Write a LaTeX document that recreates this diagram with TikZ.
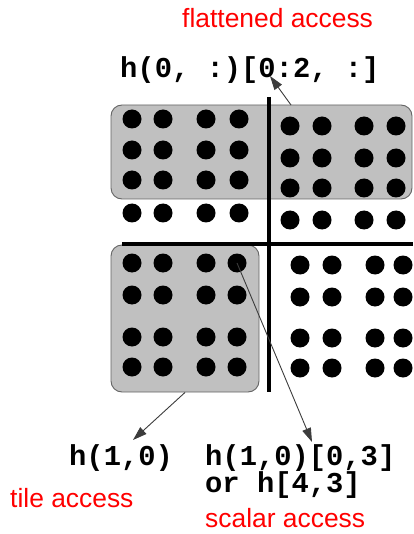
\documentclass[tikz,border=0pt]{standalone}
\usepackage{fontspec}
\setmainfont{Liberation Sans}
\newfontfamily\codefont{Liberation Mono}
\usetikzlibrary{arrows.meta}
\definecolor{tilegray}{RGB}{192,192,192}
\definecolor{edgegray}{RGB}{100,100,100}
\definecolor{linkgray}{RGB}{60,60,60}
\definecolor{notered}{RGB}{255,0,0}
\begin{document}
\begin{tikzpicture}[x=1pt,y=-1pt,
  tilebox/.style={draw=edgegray,line width=0.9pt,fill=tilegray,rounded corners=11pt,
    inner sep=0pt,minimum width=#1},
  dot/.style={circle,fill=black,inner sep=0pt,minimum size=19pt},
  divider/.style={line width=3.2pt,black},
  code/.style={inner sep=0pt,anchor=base west,font=\codefont\bfseries\fontsize{28.8}{30}\selectfont},
  note/.style={inner sep=0pt,anchor=base west,text=notered,font=\fontsize{26.4}{30}\selectfont},
  link/.style={draw=linkgray,line width=0.9pt,-{Triangle[length=14pt,width=9pt]}}
]
\useasboundingbox (0,0) rectangle (413,534);

% shaded tiles
\node[tilebox=301pt,minimum height=94pt] (rowtile) at (261.5,152) {};
\node[tilebox=148pt,minimum height=147pt] (tile) at (185,318.5) {};

% tile boundaries
\draw[divider] (269,97) -- (269,392);
\draw[divider] (122,244) -- (413,244);

% elements of the four tiles
\foreach \x [count=\i from 0] in {132,163,206,239}
  \foreach \y [count=\j from 0] in {119,150,180,213}
    \node[dot] (a-\j-\i) at (\x,\y) {};
\foreach \x [count=\i from 0] in {290,322,364,396}
  \foreach \y [count=\j from 0] in {126,158,188,220}
    \node[dot] (b-\j-\i) at (\x,\y) {};
\foreach \x [count=\i from 0] in {132,163,206,237}
  \foreach \y [count=\j from 0] in {263,295,337,367}
    \node[dot] (c-\j-\i) at (\x,\y) {};
\foreach \x [count=\i from 0] in {300,332,375,403}
  \foreach \y [count=\j from 0] in {265,297,338,368}
    \node[dot] (d-\j-\i) at (\x,\y) {};

% labels
\node[note] (flatnote) at (182,28) {flattened access};
\node[code] (flat) at (120,78) {h(0, :)[0:2, :]};
\node[code] (tilecode) at (69,465) {h(1,0)};
\node[code] (scalarcode) at (205,465) {h(1,0)[0,3]};
\node[code] (scalaralt) at (205,492) {or h[4,3]};
\node[note] (tilenote) at (10,507) {tile access};
\node[note] (scalarnote) at (205,527) {scalar access};

% access arrows
\coordinate (flatstart) at (291,105);
\coordinate (flattip) at (270,76);
\coordinate (tiletip) at (133,440);
\coordinate (scalartip) at (312,442);
\draw[link] (flatstart) -- (flattip);
\draw[link] (tile.south) -- (tiletip);
\draw[link] (c-0-3.center) -- (scalartip);
\end{tikzpicture}
\end{document}
